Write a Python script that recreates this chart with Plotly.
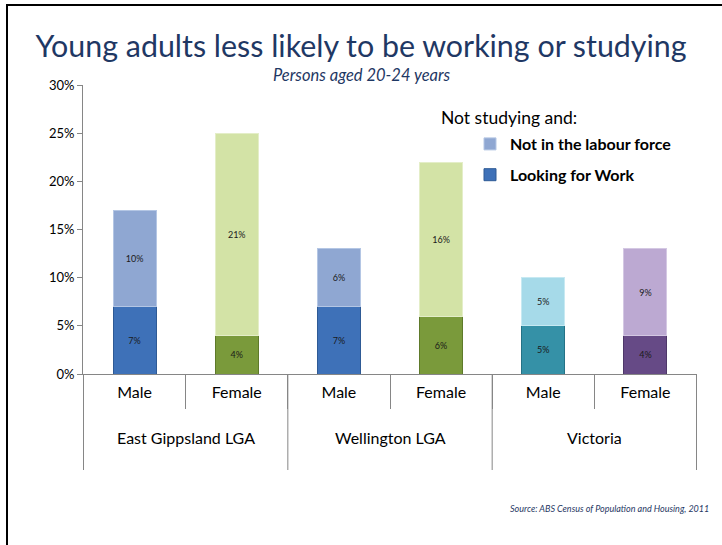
import plotly.graph_objects as go

regions = ["East Gippsland LGA", "East Gippsland LGA", "Wellington LGA", "Wellington LGA", "Victoria", "Victoria"]
sexes = ["Male", "Female", "Male", "Female", "Male", "Female"]
looking_for_work = [7, 4, 7, 6, 5, 4]
not_in_labour_force = [10, 21, 6, 16, 5, 9]
y_ticks = [0, 5, 10, 15, 20, 25, 30]
y_tick_labels = ["0%", "5%", "10%", "15%", "20%", "25%", "30%"]

dark_colors = ["#3E71B8", "#7A9A3B", "#3E71B8", "#7A9A3B", "#3591A7", "#664A86"]
light_colors = ["#8FA7D2", "#D3E3A6", "#8FA7D2", "#D3E3A6", "#A6DAE9", "#BCA9D2"]
dark_lines = ["#2E5A95", "#5E7A2A", "#2E5A95", "#5E7A2A", "#257286", "#4E3869"]
light_lines = ["#B4C6E4", "#E4EEC8", "#B4C6E4", "#E4EEC8", "#C7E9F2", "#D4C8E3"]

FONT = "Lato"
NAVY = "#1F3864"
GRAY = "#868686"

cats = [f"{r} | {s}" for r, s in zip(regions, sexes)]

fig = go.Figure()
fig.add_trace(go.Bar(
    x=cats, y=looking_for_work, name="Looking for Work", legendgroup="lfw", legendrank=2,
    marker=dict(color=dark_colors, line=dict(color=dark_lines, width=1)),
    width=0.42, text=[f"{v}%" for v in looking_for_work], textposition="inside",
    insidetextanchor="middle", textfont=dict(size=9, color="#1a1a1a", family=FONT),
    hoverinfo="skip",
))
fig.add_trace(go.Bar(
    x=cats, y=not_in_labour_force, name="Not in the labour force", legendgroup="nilf", legendrank=1,
    marker=dict(color=light_colors, line=dict(color=light_lines, width=1)),
    width=0.42, text=[f"{v}%" for v in not_in_labour_force], textposition="inside",
    insidetextanchor="middle", textfont=dict(size=9, color="#1a1a1a", family=FONT),
    hoverinfo="skip",
))

W, H = 722, 545
L, R, T, B = 83, 25, 85, 171
pw, ph = W - L - R, H - T - B

def px_x(p):
    return (p - L) / pw

def px_y(p):
    return (H - B - p) / ph

# group labels and dividers from the region list
annotations = []
shapes = []
groups = []
for i, r in enumerate(regions):
    if not groups or groups[-1][0] != r:
        groups.append([r, i, i])
    else:
        groups[-1][2] = i
for r, i0, i1 in groups:
    annotations.append(dict(text=r, xref="x", yref="paper", x=(i0 + i1) / 2, y=px_y(437),
                            xanchor="center", yanchor="middle", showarrow=False,
                            font=dict(family=FONT, size=16, color="#000000")))
bounds = [g[1] - 0.5 for g in groups] + [groups[-1][2] + 0.5]
for b in bounds:
    shapes.append(dict(type="line", xref="x", yref="paper", x0=b, x1=b, y0=0, y1=px_y(470),
                       line=dict(color=GRAY, width=1)))

annotations += [
    dict(text="<i>Persons aged 20-24 years</i>", xref="paper", yref="paper",
         x=px_x(362), y=px_y(75), xanchor="center", yanchor="middle", showarrow=False,
         font=dict(family=FONT, size=16.5, color=NAVY)),
    dict(text="Not studying and:", xref="paper", yref="paper",
         x=px_x(439), y=px_y(117), xanchor="left", yanchor="middle", showarrow=False,
         font=dict(family=FONT, size=17.5, color="#000000")),
    dict(text="<i>Source: ABS Census of Population and Housing, 2011</i>", xref="paper", yref="paper",
         x=px_x(711), y=px_y(508), xanchor="right", yanchor="middle", showarrow=False,
         font=dict(family=FONT, size=9, color=NAVY)),
]
shapes.append(dict(type="rect", xref="paper", yref="paper",
                   x0=px_x(7), x1=px_x(740), y0=px_y(560), y1=px_y(5),
                   line=dict(color="black", width=2), fillcolor="rgba(0,0,0,0)", layer="below"))

fig.update_layout(
    width=W, height=H,
    margin=dict(l=L, r=R, t=T, b=B),
    paper_bgcolor="white", plot_bgcolor="white",
    barmode="stack",
    font=dict(family=FONT, size=14, color="#000000"),
    title=dict(text="Young adults less likely to be working or studying",
               x=0.5, xanchor="center", xref="container", y=1 - 46 / H, yanchor="middle",
               font=dict(family=FONT, size=30.4, color=NAVY)),
    showlegend=True,
    legend=dict(x=px_x(470), y=px_y(127), xanchor="left", yanchor="top",
                font=dict(family=FONT, size=16, color="#000000", weight="bold"),
                bgcolor="rgba(0,0,0,0)", tracegroupgap=7, itemwidth=30,
                traceorder="grouped"),
    xaxis=dict(type="category", tickvals=cats, ticktext=sexes, showline=True,
               linecolor=GRAY, linewidth=1,
               ticks="outside", tickson="boundaries", ticklen=34, tickcolor=GRAY,
               ticklabelstandoff=4,
               tickfont=dict(family=FONT, size=16, color="#000000"),
               showgrid=False, zeroline=False),
    yaxis=dict(range=[0, 30], tickvals=y_ticks, ticktext=y_tick_labels, showgrid=False,
               zeroline=False, showline=True, linecolor=GRAY, linewidth=1,
               ticks="outside", ticklen=5, tickcolor=GRAY,
               tickfont=dict(family=FONT, size=13, color="#000000")),
    annotations=annotations,
    shapes=shapes,
)

fig.write_html("out.html", config={"displayModeBar": False},
               post_script="document.body.style.margin='0';")
